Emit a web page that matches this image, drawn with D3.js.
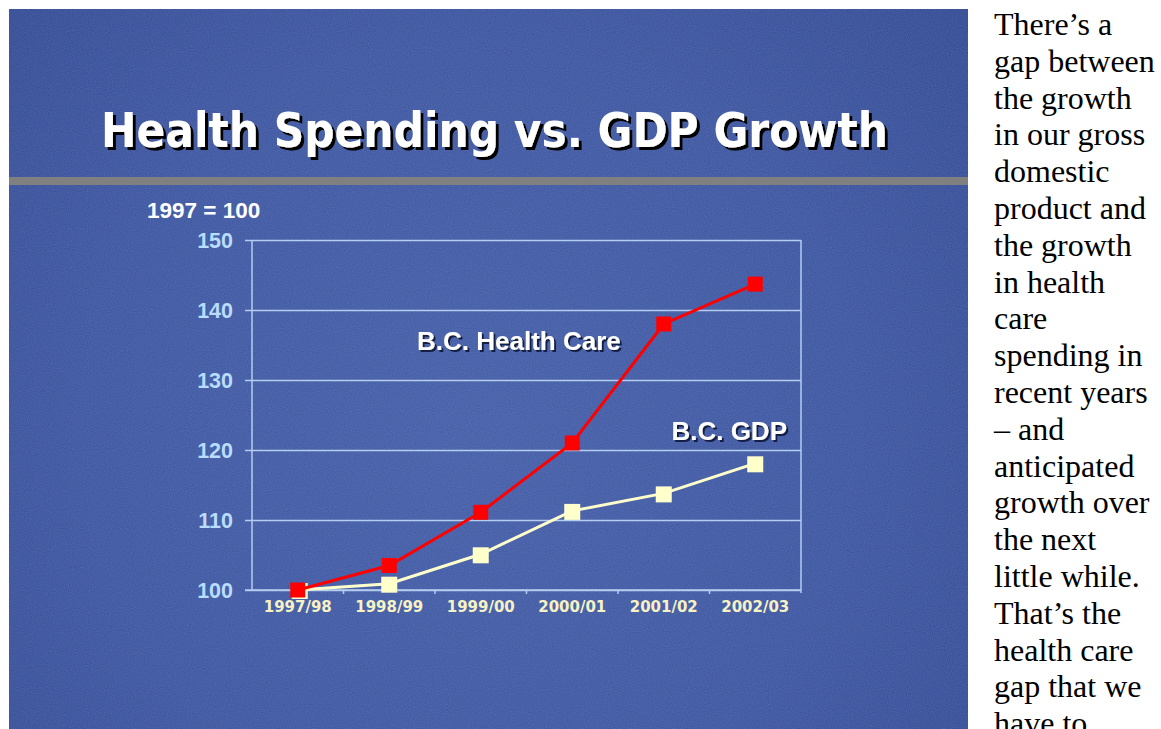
<!DOCTYPE html>
<html><head><meta charset="utf-8">
<script src="https://cdn.jsdelivr.net/npm/d3@7"></script>
<style>
html,body{margin:0;padding:0;background:#fff;overflow:hidden;}
svg{display:block;}
</style></head>
<body>
<script>
const categories = ["1997/98","1998/99","1999/00","2000/01","2001/02","2002/03"];
const healthCare = [100, 103.5, 111.1, 121.0, 138.0, 143.7];
const gdp = [100, 100.9, 105.1, 111.3, 113.8, 118.1];
const yTicks = [100, 110, 120, 130, 140, 150];
const titleText = "Health Spending vs. GDP Growth";
const baseLabel = "1997 = 100";
const seriesLabels = ["B.C. Health Care", "B.C. GDP"];
const noteLines = ["There’s a","gap between","the growth","in our gross","domestic","product and","the growth","in health","care","spending in","recent years","– and","anticipated","growth over","the next","little while.","That’s the","health care","gap that we","have to"];

const W = 1161, H = 729;
const svg = d3.select("body").append("svg").attr("width", W).attr("height", H);
const defs = svg.append("defs");

const rg = defs.append("radialGradient").attr("id","bg").attr("gradientUnits","userSpaceOnUse")
  .attr("cx",470).attr("cy",430).attr("r",650);
rg.append("stop").attr("offset","0").attr("stop-color","#3f5aa5");
rg.append("stop").attr("offset","0.6").attr("stop-color","#37519d");
rg.append("stop").attr("offset","1").attr("stop-color","#2c4590");

const nf = defs.append("filter").attr("id","noise").attr("x",0).attr("y",0).attr("width","100%").attr("height","100%");
nf.append("feTurbulence").attr("type","fractalNoise").attr("baseFrequency",0.95).attr("numOctaves",1).attr("seed",3).attr("result","t");
nf.append("feColorMatrix").attr("in","t").attr("type","matrix")
  .attr("values","0 0 0 0 0.45  0 0 0 0 0.5  0 0 0 0 0.75  0 0 0 0.25 0");

const sh = defs.append("filter").attr("id","shadow").attr("x","-5%").attr("y","-20%").attr("width","115%").attr("height","150%");
sh.append("feDropShadow").attr("dx",3).attr("dy",3).attr("stdDeviation",0.4).attr("flood-color","#000").attr("flood-opacity",1);
const sh2 = defs.append("filter").attr("id","shadow2").attr("x","-5%").attr("y","-20%").attr("width","115%").attr("height","150%");
sh2.append("feDropShadow").attr("dx",2).attr("dy",2).attr("stdDeviation",0.5).attr("flood-color","#10183a").attr("flood-opacity",0.9);

// slide panel
svg.append("rect").attr("x",9).attr("y",9).attr("width",959).attr("height",H-9).attr("fill","url(#bg)");
svg.append("rect").attr("x",9).attr("y",9).attr("width",959).attr("height",H-9).attr("filter","url(#noise)");

// gray band
svg.append("rect").attr("x",9).attr("y",177).attr("width",959).attr("height",8).attr("fill","#808080");

// title
svg.append("text").attr("x",101).attr("y",147)
  .attr("font-family","'DejaVu Sans', Verdana, sans-serif").attr("font-weight","bold")
  .attr("font-size",48).attr("fill","#fff").attr("textLength",787).attr("lengthAdjust","spacingAndGlyphs")
  .attr("filter","url(#shadow)").text(titleText);

// chart
const m = {l:252, r:801, t:240, b:590};
const x = d3.scaleBand().domain(categories).range([m.l, m.r]);
const y = d3.scaleLinear().domain([100,150]).range([m.b, m.t]);
const gridCol = "#b4cdf0";

const g = svg.append("g");
g.append("g").attr("transform",`translate(${m.l},0)`)
  .call(d3.axisLeft(y).tickValues(yTicks).tickSize(-(m.r-m.l)).tickFormat(""))
  .call(s=>s.select(".domain").remove())
  .call(s=>s.selectAll("line").attr("stroke",gridCol).attr("stroke-width",1.5));
const ya = g.append("g").attr("transform",`translate(${m.l},0)`)
  .call(d3.axisLeft(y).tickValues(yTicks).tickSize(7).tickPadding(12));
ya.select(".domain").attr("stroke",gridCol).attr("stroke-width",1.5).attr("d",`M0,${m.t}V${m.b}`);
ya.selectAll("line").attr("stroke",gridCol).attr("stroke-width",1.5);
ya.selectAll("text").attr("font-family","'Liberation Sans', Arial, sans-serif").attr("font-weight","bold")
  .attr("font-size",21.5).attr("fill","#b9dcff").attr("dy","0.36em");
g.append("line").attr("x1",m.r).attr("x2",m.r).attr("y1",m.t).attr("y2",m.b+3).attr("stroke",gridCol).attr("stroke-width",1.5);
const xa = g.append("g").attr("transform",`translate(0,${m.b})`)
  .call(d3.axisBottom(x).tickSize(0).tickPadding(11));
xa.select(".domain").attr("stroke",gridCol).attr("stroke-width",1.5).attr("d",`M${m.l-7},0H${m.r}`);
xa.selectAll("text").attr("font-family","'DejaVu Sans', Verdana, sans-serif").attr("font-weight","bold")
  .attr("font-size",15).attr("fill","#f6f2c4").attr("dy","0.75em");
g.append("g").selectAll("line").data(categories.slice(1)).join("line")
  .attr("x1",d=>x(d)).attr("x2",d=>x(d)).attr("y1",m.b).attr("y2",m.b+4)
  .attr("stroke",gridCol).attr("stroke-width",1.5);

const line = d3.line().x((d,i)=>x(categories[i])+x.bandwidth()/2).y(d=>y(d));
function drawSeries(data, color, size, dx){
  g.append("path").datum(data).attr("d",line).attr("fill","none").attr("stroke",color).attr("stroke-width",3);
  g.append("g").selectAll("rect").data(data).join("rect")
    .attr("x",(d,i)=>x(categories[i])+x.bandwidth()/2-size/2+(i===0?dx:0))
    .attr("y",d=>y(d)-size/2+(dx>0?1:0)).attr("width",size).attr("height",size).attr("fill",color);
}
drawSeries(gdp, "#ffffcc", 16, 2);
drawSeries(healthCare, "#ff0000", 15, 0);

const lf = "'Liberation Sans', Arial, sans-serif";
svg.append("text").attr("x",417).attr("y",350).attr("font-family",lf).attr("font-weight","bold")
  .attr("font-size",26).attr("fill","#fff").attr("filter","url(#shadow2)").text(seriesLabels[0]);
svg.append("text").attr("x",787).attr("y",440).attr("text-anchor","end").attr("font-family",lf).attr("font-weight","bold")
  .attr("font-size",26).attr("fill","#fff").attr("filter","url(#shadow2)").text(seriesLabels[1]);
svg.append("text").attr("x",147).attr("y",218).attr("font-family",lf).attr("font-weight","bold")
  .attr("font-size",22.5).attr("fill","#fff").text(baseLabel);

svg.append("g").selectAll("text").data(noteLines).join("text")
  .attr("x",994).attr("y",(d,i)=>35+i*36.8)
  .attr("font-family","'Liberation Serif', 'Times New Roman', serif").attr("font-size",32)
  .attr("fill","#000").text(d=>d);
</script>
</body></html>
